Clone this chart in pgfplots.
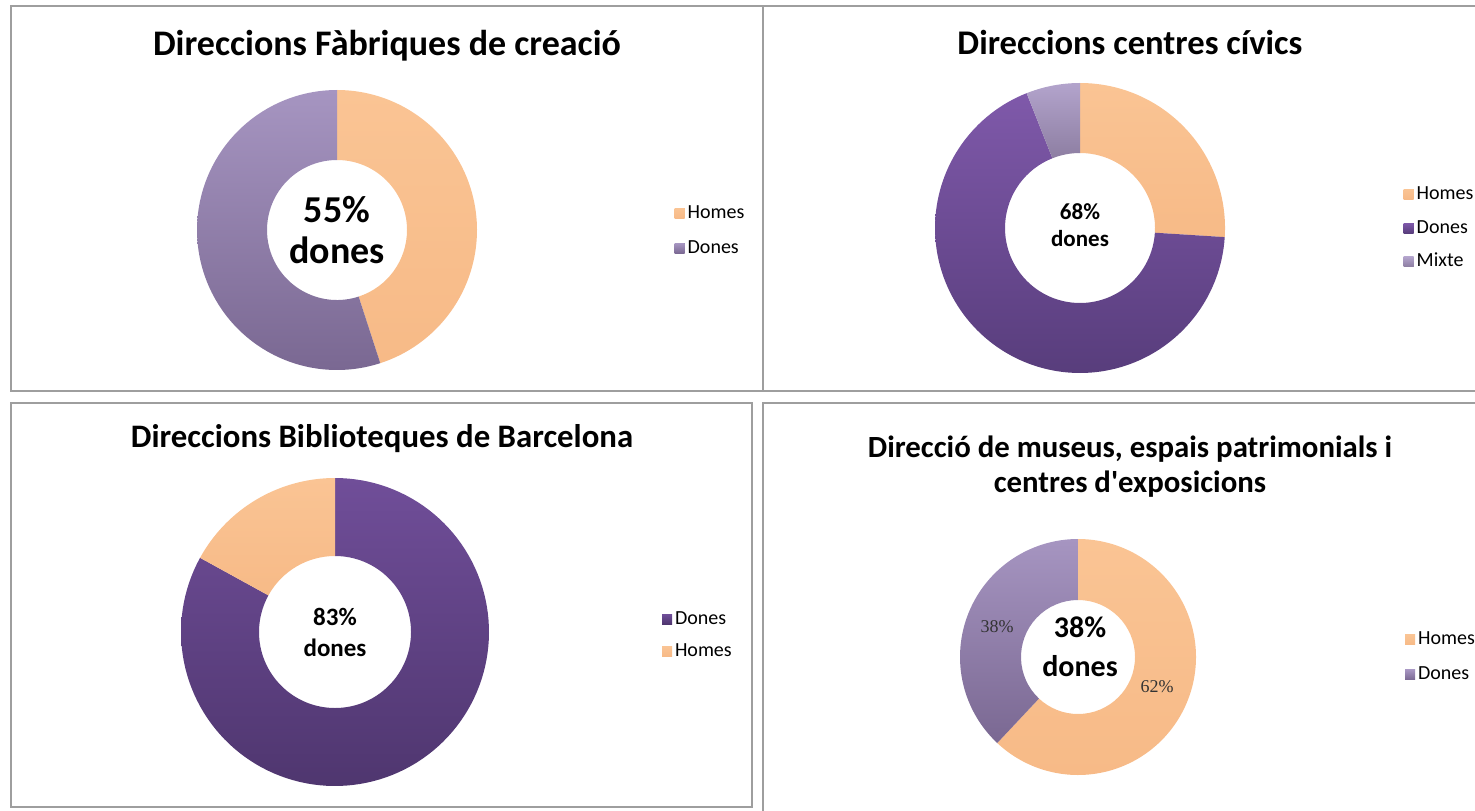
\documentclass[border=0pt]{standalone}
\usepackage{pgfplots}
\pgfplotsset{compat=1.18}
\usepackage{fontspec}
\setmainfont{Carlito}
\newfontfamily\labelfont{Liberation Serif}

\definecolor{homesT}{HTML}{FAC494}
\definecolor{homesB}{HTML}{F7BA87}
\definecolor{homesM}{HTML}{F9C08F}
\definecolor{doneAT}{HTML}{A695C1}
\definecolor{doneAB}{HTML}{7A6892}
\definecolor{doneAM}{HTML}{9483AB}
\definecolor{doneBT}{HTML}{7F59AA}
\definecolor{doneBB}{HTML}{583D7C}
\definecolor{doneBM}{HTML}{6A4A93}
\definecolor{mixT}{HTML}{B3A4CC}
\definecolor{mixB}{HTML}{8D7EA2}
\definecolor{mixM}{HTML}{A395B9}
\definecolor{doneCT}{HTML}{704E99}
\definecolor{doneCB}{HTML}{4F366F}
\definecolor{doneCM}{HTML}{5F4384}
\definecolor{frame}{HTML}{9E9E9E}

% #1 cx, #2 cy, #3 outer R, #4 inner r, #5 start (cumulative %), #6 share (%), #7 style
\newcommand{\slice}[7]{%
\addplot[#7, draw=none, domain={90-3.6*(#5+#6)}:{90-3.6*#5}, samples=120, variable=\t]
  ({#1+#3*cos(\t)},{#2+#3*sin(\t)})
  -- (axis cs:{#1+#4*cos(90-3.6*#5)},{#2+#4*sin(90-3.6*#5)})
  arc[start angle={90-3.6*#5}, end angle={90-3.6*(#5+#6)}, radius={#4*0.5pt}]
  -- cycle;
}

\pgfplotsset{
  homes/.style={top color=homesT, bottom color=homesB,
    legend image code/.code={\fill[homesM] (0pt,-2.5pt) rectangle (5pt,2.5pt);}},
  doneA/.style={top color=doneAT, bottom color=doneAB,
    legend image code/.code={\fill[doneAM] (0pt,-2.5pt) rectangle (5pt,2.5pt);}},
  doneB/.style={top color=doneBT, bottom color=doneBB,
    legend image code/.code={\fill[doneBM] (0pt,-2.5pt) rectangle (5pt,2.5pt);}},
  mixte/.style={top color=mixT, bottom color=mixB,
    legend image code/.code={\fill[mixM] (0pt,-2.5pt) rectangle (5pt,2.5pt);}},
  doneC/.style={top color=doneCT, bottom color=doneCB,
    legend image code/.code={\fill[doneCM] (0pt,-2.5pt) rectangle (5pt,2.5pt);}},
  panel/.style={x=0.5pt, y=0.5pt, anchor=south west,
    xtick=\empty, ytick=\empty, clip=false,
    axis line style={draw=frame, line width=1.1pt},
    legend cell align=left,
    legend style={draw=none, fill=none, inner sep=0pt, row sep=6pt,
      font=\fontsize{10}{11}\selectfont,
      nodes={inner sep=1.5pt, text height=6.8pt, text depth=1.8pt},
      anchor=north west}},
}
\tikzset{ttl/.style={font=\bfseries\fontsize{18}{21}\selectfont, align=center}}

\begin{document}
\begin{tikzpicture}
\useasboundingbox (0,0) rectangle (737.5pt,405pt);

% ---------- Panel 1: Fabriques de creacio ----------
\begin{axis}[panel, xmin=11, xmax=763, ymin=419, ymax=804, at={(5.5pt,209.5pt)},
  legend style={at={(0.882,0.493)}, row sep=6pt}]
\slice{337}{580}{140}{70}{0}{45}{homes}
\addlegendentry{Homes}
\slice{337}{580}{140}{70}{45}{55}{doneA}
\addlegendentry{Dones}
\node[ttl] at (axis cs:387,764) {Direccions Fàbriques de creació};
\node[font=\bfseries\fontsize{19}{20.5}\selectfont, align=center] at (axis cs:337,580) {55\%\\dones};
\end{axis}

% ---------- Panel 2: centres civics ----------
\begin{axis}[panel, xmin=763, xmax=1480, ymin=419, ymax=804, at={(381.5pt,209.5pt)},
  legend style={at={(0.893,0.542)}, row sep=5.25pt}]
\slice{1080}{582}{145}{75}{0}{26}{homes}
\addlegendentry{Homes}
\slice{1080}{582}{145}{75}{26}{68}{doneB}
\addlegendentry{Dones}
\slice{1080}{582}{145}{75}{94}{6}{mixte}
\addlegendentry{Mixte}
\node[font=\bfseries\fontsize{17.3}{20}\selectfont, align=center] at (axis cs:1130,768) {Direccions centres cívics};
\node[font=\bfseries\fontsize{11.5}{13.5}\selectfont, align=center] at (axis cs:1080,585) {68\%\\dones};
\end{axis}

% ---------- Panel 3: Biblioteques ----------
\begin{axis}[panel, xmin=11, xmax=752, ymin=3, ymax=407, at={(5.5pt,1.5pt)},
  legend style={at={(0.878,0.495)}, row sep=4.5pt}]
\slice{335}{178}{154}{76}{0}{83}{doneC}
\addlegendentry{Dones}
\slice{335}{178}{154}{76}{83}{17}{homes}
\addlegendentry{Homes}
\node[font=\bfseries\fontsize{16.4}{20}\selectfont, align=center] at (axis cs:382,371) {Direccions Biblioteques de Barcelona};
\node[font=\bfseries\fontsize{12.5}{15.5}\selectfont, align=center] at (axis cs:335,178) {83\%\\dones};
\end{axis}

% ---------- Panel 4: museus ----------
\begin{axis}[panel, xmin=763, xmax=1480, ymin=-3, ymax=407, at={(381.5pt,-1.5pt)},
  legend style={at={(0.895,0.452)}, row sep=6pt}]
\slice{1078}{153}{118}{57}{0}{62}{homes}
\addlegendentry{Homes}
\slice{1078}{153}{118}{57}{62}{38}{doneA}
\addlegendentry{Dones}
\node[font=\bfseries\fontsize{15.4}{17.5}\selectfont, align=center] at (axis cs:1130,343) {Direcció de museus, espais patrimonials i\\centres d\textquotesingle exposicions};
\node[font=\bfseries\fontsize{15}{19.5}\selectfont, align=center] at (axis cs:1080,163) {38\%\\dones};
\node[font=\labelfont\fontsize{9}{10}\selectfont, text=black!80] at (axis cs:997,183) {38\%};
\node[font=\labelfont\fontsize{9}{10}\selectfont, text=black!80] at (axis cs:1157,123) {62\%};
\end{axis}

\end{tikzpicture}
\end{document}
